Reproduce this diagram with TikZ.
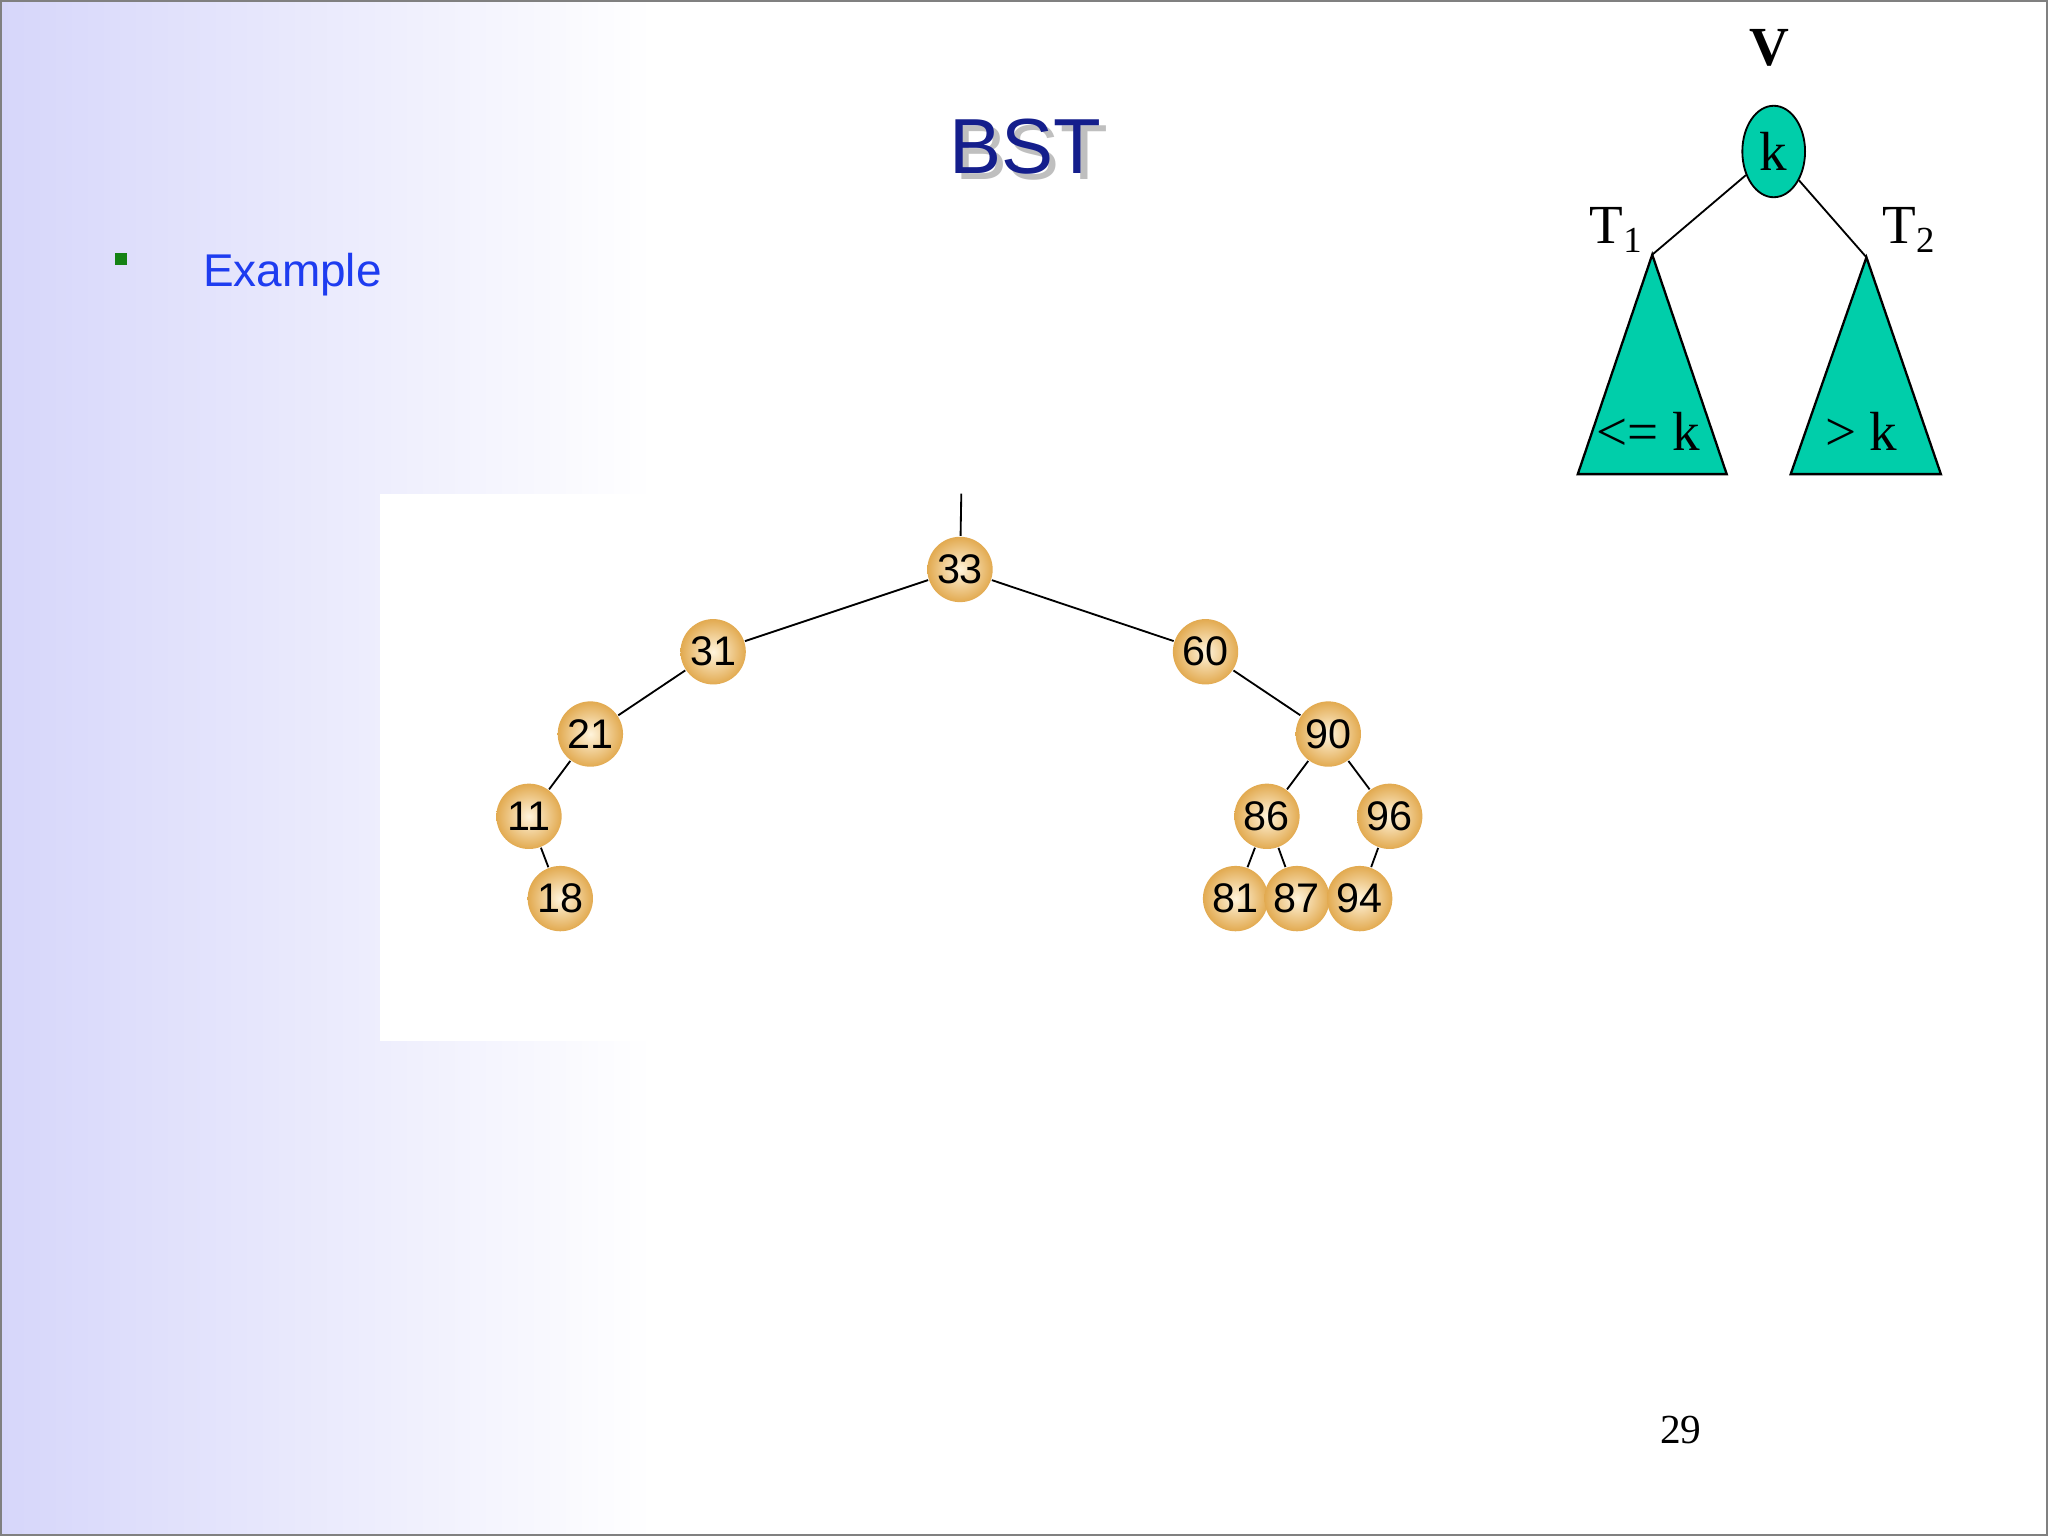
\documentclass[tikz,border=0pt]{standalone}
\usepackage{fontspec}
\setmainfont{Liberation Serif}
\newfontfamily\sansf{Liberation Sans}
\usetikzlibrary{shapes.geometric}
\definecolor{lav}{RGB}{214,214,250}
\definecolor{teal2}{RGB}{0,206,170}
\definecolor{tblue}{RGB}{20,30,140}
\definecolor{exblue}{RGB}{30,60,240}
\definecolor{bgreen}{RGB}{20,130,20}
\tikzset{
 ball/.style={circle,minimum size=0.5cm,inner sep=0pt,inner color={rgb,255:red,255;green,244;blue,220},outer color={rgb,255:red,226;green,170;blue,80},font=\sansf\fontsize{9}{9}\selectfont},
 edge/.style={draw=black,line width=0.4pt},
 tri/.style={draw=black,fill=teal2,line width=0.5pt},
 lbl/.style={font=\fontsize{12}{12}\selectfont}
}
\begin{document}
\begin{tikzpicture}[x=0.01cm,y=-0.01cm]
\useasboundingbox (0,0) rectangle (1568,1176);
\shade[left color=lav,right color=white] (0,0) rectangle (500,1176);
\fill[white] (500,0) rectangle (1568,1176);
\fill[white] (291,378) rectangle (1200,797);
\draw[gray,line width=0.8pt] (0.5,0.5) rectangle (1567.5,1175.5);
% title
\node[font=\sansf\fontsize{17}{17}\selectfont,text=gray!50] at (790,117) {BST};
\node (title) [font=\sansf\fontsize{17}{17}\selectfont,text=tblue] at (785,112) {BST};
\fill[bgreen] (88,194) rectangle (97,203);
\node (ex) [anchor=west,font=\sansf\fontsize{10}{10}\selectfont,text=exblue] at (143,210) {Example};
% BST
\coordinate (top) at (736,378);
\node[ball] (n33) at (735,436) {33};
\node[ball] (n31) at (546,499) {31};
\node[ball] (n60) at (923,499) {60};
\node[ball] (n21) at (452,562) {21};
\node[ball] (n90) at (1017,562) {90};
\node[ball] (n11) at (405,625) {11};
\node[ball] (n86) at (970,625) {86};
\node[ball] (n96) at (1064,625) {96};
\node[ball] (n18) at (429,688) {18};
\node[ball] (n81) at (946,688) {81};
\node[ball] (n87) at (993,688) {87};
\node[ball] (n94) at (1041,688) {94};
\begin{scope}[on background layer/.style={}]
\draw[edge] (top) -- (n33);
\draw[edge] (n33) -- (n31); \draw[edge] (n33) -- (n60);
\draw[edge] (n31) -- (n21); \draw[edge] (n21) -- (n11); \draw[edge] (n11) -- (n18);
\draw[edge] (n60) -- (n90); \draw[edge] (n90) -- (n86); \draw[edge] (n90) -- (n96);
\draw[edge] (n86) -- (n81); \draw[edge] (n86) -- (n87); \draw[edge] (n96) -- (n94);
\end{scope}
% schematic
\node (V) [font=\bfseries\fontsize{12}{12}\selectfont] at (1355,37) {V};
\node (k) [ellipse,draw=black,fill=teal2,minimum width=0.48cm,minimum height=0.7cm,inner sep=0pt,lbl] at (1358,116) {k};
\coordinate (a1) at (1265,195);
\coordinate (a2) at (1429,197);
\draw[edge] (k) -- (a1);
\draw[edge] (k) -- (a2);
\draw[tri] (a1) -- (1208,363) -- (1322,363) -- cycle;
\draw[tri] (a2) -- (1371,363) -- (1486,363) -- cycle;
\node (t1) [lbl] at (1238,176) {T\textsubscript{1}};
\node (t2) [lbl] at (1462,176) {T\textsubscript{2}};
\node (le) [lbl] at (1262,330) {<= k};
\node (gt) [lbl] at (1425,330) {> k};
\node (pg) [font=\fontsize{9}{9}\selectfont] at (1287,1095) {29};
\end{tikzpicture}
\end{document}
